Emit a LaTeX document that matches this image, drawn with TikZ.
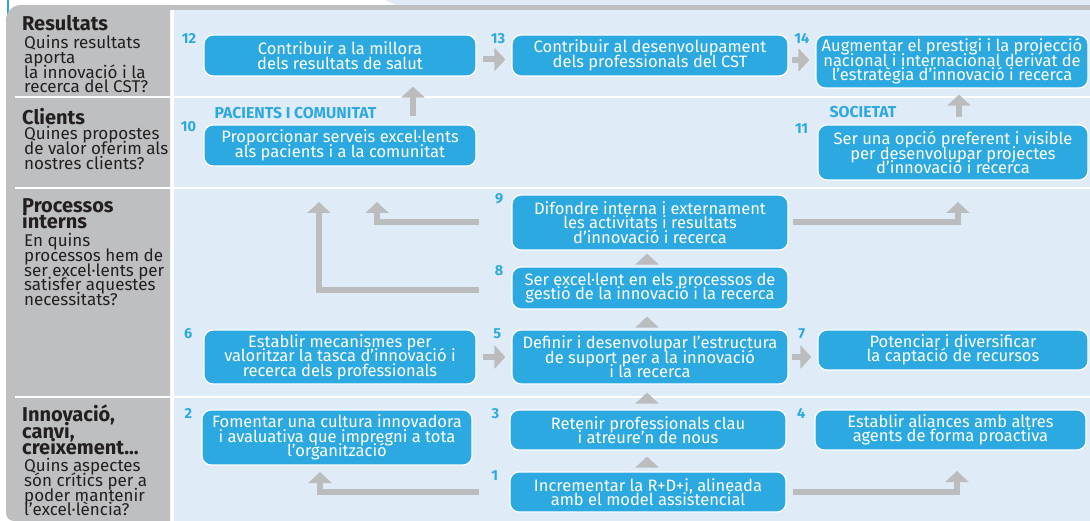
\documentclass[tikz,border=0pt]{standalone}
\usepackage{fontspec}
\setmainfont{Fira Sans}
\usetikzlibrary{arrows.meta}
\definecolor{cstblue}{HTML}{2DA9E1}
\definecolor{panelblue}{HTML}{DFECF8}
\definecolor{colgray}{HTML}{BEBFC1}
\definecolor{arrgray}{HTML}{BBBCBE}
\definecolor{inkgray}{HTML}{231F20}
\newcommand{\tightlines}{\lineskiplimit=-30pt\relax}
\tikzset{
goal/.style={rectangle, rounded corners=9pt, fill=cstblue, draw=white, line width=1.2pt, text=white, align=center, inner sep=1pt, font=\fontsize{16.5}{14.5}\selectfont\tightlines},
num/.style={anchor=north east, inner sep=0pt, text=cstblue, font=\bfseries\fontsize{14.5}{14.5}\selectfont},
grp/.style={anchor=base west, inner sep=0pt, text=cstblue, font=\bfseries\fontsize{15.8}{15.8}\selectfont},
rowtitle/.style={anchor=north west, align=left, inner sep=0pt, text=inkgray, font=\bfseries\fontsize{20}{16.5}\selectfont\tightlines},
rowtext/.style={anchor=north west, align=left, inner sep=0pt, text=inkgray, font=\fontsize{17}{14.8}\selectfont\tightlines},
arr/.style={draw=arrgray, line width=6pt, line join=miter, -{Triangle[width=23pt,length=11pt]}},
}
\begin{document}
\begin{tikzpicture}[x=1pt,y=-1pt]
\useasboundingbox (0,0) rectangle (1090,521);
\fill[white] (0,0) rectangle (1090,521);
\fill[panelblue] (385,0) -- (1090,0) -- (1090,6) -- (398,6) -- cycle;
\draw[cstblue, line width=2.5pt] (8,0) -- (8,20);
\fill[colgray] (20,5) rectangle (1090,10);
\fill[colgray] (170,5) -- (21,5) arc[start angle=270, end angle=180, radius=15] -- (6,513) arc[start angle=180, end angle=90, radius=8] -- (170,521) -- cycle;
\fill[panelblue] (174,10) rectangle (1090,521);
\draw[white, line width=2pt] (15,97) -- (1090,97);
\draw[white, line width=2pt] (15,188) -- (1090,188);
\draw[white, line width=2pt] (15,397) -- (1090,397);

\node[rowtitle] (tres) at (22,15) {Resultats};
\node[rowtext] (qres) at (24,35) {Quins resultats\\aporta\\la innovació i la\\recerca del CST?};
\node[rowtitle] (tcli) at (22,108) {Clients};
\node[rowtext] (qcli) at (24,126) {Quines propostes\\de valor oferim als\\nostres clients?};
\node[rowtitle] (tpro) at (22,198) {Processos\\interns};
\node[rowtext] (qpro) at (24,233) {En quins\\processos hem de\\ser excel·lents per\\satisfer aquestes\\necessitats?};
\node[rowtitle] (tinn) at (22,405) {Innovació,\\canvi,\\creixement...};
\node[rowtext] (qinn) at (24,458) {Quins aspectes\\són crítics per a\\poder mantenir\\l’excel·lència?};

\node[goal, minimum width=272pt, minimum height=41pt] (b12) at (340,55.5) {Contribuir a la millora\\dels resultats de salut};
\node[goal, minimum width=276pt, minimum height=41pt] (b13) at (650,55.5) {Contribuir al desenvolupament\\dels professionals del CST};
\node[goal, minimum width=272pt, minimum height=53pt] (b14) at (952,61.5) {Augmentar el prestigi i la projecció\\nacional i internacional derivat de\\l’estratègia d’innovació i recerca};
\node[goal, minimum width=272pt, minimum height=41pt] (b10) at (340,145.5) {Proporcionar serveis excel·lents\\als pacients i a la comunitat};
\node[goal, minimum width=270pt, minimum height=55pt] (b11) at (953,152.5) {Ser una opció preferent i visible\\per desenvolupar projectes\\d’innovació i recerca};
\node[goal, minimum width=276pt, minimum height=55pt] (b9) at (650,222.5) {Difondre interna i externament\\les activitats i resultats\\d’innovació i recerca};
\node[goal, minimum width=276pt, minimum height=42pt] (b8) at (650,288) {Ser excel·lent en els processos de\\gestió de la innovació i la recerca};
\node[goal, minimum width=276pt, minimum height=54pt] (b5) at (650,357) {Definir i desenvolupar l’estructura\\de suport per a la innovació\\i la recerca};
\node[goal, minimum width=272pt, minimum height=54pt] (b6) at (340,357) {Establir mecanismes per\\valoritzar la tasca d’innovació i\\recerca dels professionals};
\node[goal, minimum width=270pt, minimum height=40pt] (b7) at (953,350) {Potenciar i diversificar\\la captació de recursos};
\node[goal, minimum width=270pt, minimum height=55pt] (b2) at (337,437.5) {Fomentar una cultura innovadora\\i avaluativa que impregni a tota\\l’organització};
\node[goal, minimum width=276pt, minimum height=40pt] (b3) at (648,430) {Retenir professionals clau\\i atreure’n de nous};
\node[goal, minimum width=271pt, minimum height=40pt] (b4) at (950.5,430) {Establir aliances amb altres\\agents de forma proactiva};
\node[goal, minimum width=276pt, minimum height=40pt] (b1) at (648,492) {Incrementar la R+D+i, alineada\\amb el model assistencial};

\node[num] (n12) at ([xshift=-7pt,yshift=1pt]b12.north west) {12};
\node[num] (n13) at ([xshift=-6pt,yshift=1pt]b13.north west) {13};
\node[num] (n14) at ([xshift=-6pt,yshift=1pt]b14.north west) {14};
\node[num] (n10) at ([xshift=-7pt,yshift=3pt]b10.north west) {10};
\node[num] (n11) at ([xshift=-9pt,yshift=1pt]b11.north west) {11};
\node[num] (n9) at ([xshift=-8pt,yshift=1pt]b9.north west) {9};
\node[num] (n8) at ([xshift=-8pt,yshift=1pt]b8.north west) {8};
\node[num] (n5) at ([xshift=-10pt,yshift=1pt]b5.north west) {5};
\node[num] (n6) at ([xshift=-11pt,yshift=1pt]b6.north west) {6};
\node[num] (n7) at ([xshift=-12pt,yshift=1pt]b7.north west) {7};
\node[num] (n2) at ([xshift=-9pt,yshift=1pt]b2.north west) {2};
\node[num] (n3) at ([xshift=-10pt,yshift=1pt]b3.north west) {3};
\node[num] (n4) at ([xshift=-9pt,yshift=1pt]b4.north west) {4};
\node[num] (n1) at ([xshift=-11pt,yshift=1pt]b1.north west) {1};

\node[grp] (gpac) at ([xshift=11pt,yshift=6pt]b10.north west) {PACIENTS I COMUNITAT};
\node[grp] (gsoc) at ([xshift=12pt,yshift=7pt]b11.north west) {SOCIETAT};

\draw[arr, shorten <=6pt, shorten >=6pt] ([yshift=-4pt]b12.east) -- ([yshift=-4pt]b13.west);
\draw[arr, shorten <=3pt, shorten >=6pt] ([yshift=-4.5pt]b13.east) -- ([yshift=-4.5pt]b13.east -| b14.west);
\draw[arr, shorten <=6pt, shorten >=6pt] (b6.east) -- (b5.west);
\draw[arr, shorten <=3pt, shorten >=6pt] (b5.east) -- (b5.east -| b7.west);
\draw[arr, shorten <=8pt, shorten >=10pt] ([xshift=73pt]b10.north) -- ([xshift=73pt]b12.south);
\draw[arr, shorten <=7pt, shorten >=6pt] ([xshift=6pt]b11.north) -- ([xshift=6pt]b11.north |- b14.south);
\draw[arr, shorten <=3pt, shorten >=3pt] ([xshift=-3pt]b8.north) -- ([xshift=-3pt]b9.south);
\draw[arr, shorten <=3pt, shorten >=7pt] ([xshift=-3pt]b5.north) -- ([xshift=-3pt]b8.south);
\draw[arr, shorten <=7pt, shorten >=8pt] ([xshift=-1pt]b3.north) -- ([xshift=-1pt]b3.north |- b5.south);
\draw[arr, shorten <=5pt, shorten >=6pt] ([xshift=-1pt]b1.north) -- ([xshift=-1pt]b3.south);
\coordinate (u9) at (377,202);
\coordinate (u8) at (319,202);
\coordinate (u9r) at (958,202);
\coordinate (u1) at (320,472);
\coordinate (u1r) at (957,471);
\draw[arr] ([xshift=-32pt]b9.west) -| (u9);
\draw[arr] ([xshift=-32pt,yshift=-2pt]b8.west) -| (u8);
\draw[arr] ([xshift=4pt]b9.east) -| (u9r);
\draw[arr] ([xshift=-30pt]b1.west) -| (u1);
\draw[arr] ([xshift=6pt]b1.east) -| (u1r);
\end{tikzpicture}
\end{document}
